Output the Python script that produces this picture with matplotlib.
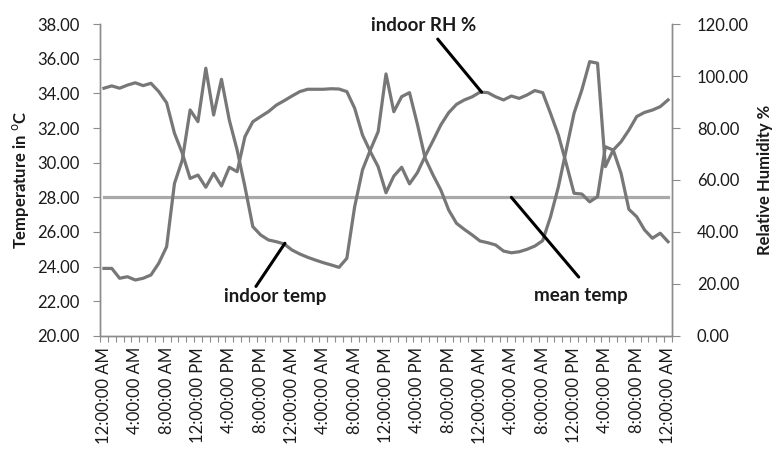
import matplotlib.pyplot as plt
import numpy as np

plt.rcParams["font.family"] = ["Lato", "DejaVu Sans"]

# hourly readings over three days (0 = 12:00:00 AM of day 1)
hours = list(range(73))
indoor_temp = [
    23.90, 23.90, 23.33, 23.42, 23.23, 23.33, 23.52, 24.20, 25.15, 28.80,
    30.15, 33.04, 32.37, 35.45, 32.75, 34.81, 32.46, 30.73, 28.60, 26.31,
    25.83, 25.54, 25.44, 25.31, 24.96, 24.73, 24.54, 24.38, 24.23, 24.10,
    23.96, 24.48, 27.46, 29.58, 30.73, 31.79, 35.12, 32.94, 33.81, 34.04,
    32.23, 30.25, 29.29, 28.42, 27.27, 26.50, 26.15, 25.83, 25.48, 25.38,
    25.25, 24.90, 24.80, 24.86, 25.00, 25.19, 25.50, 26.88, 28.60, 30.73,
    32.85, 34.20, 35.83, 35.74, 29.77, 30.73, 29.39, 27.31, 26.88, 26.12,
    25.64, 25.93, 25.44,
]
indoor_rh = [
    95.3, 96.2, 95.3, 96.5, 97.4, 96.3, 97.2, 94.0, 89.7, 78.0,
    70.3, 60.6, 61.9, 57.2, 62.6, 57.7, 64.9, 63.2, 76.7, 82.4,
    84.4, 86.3, 88.8, 90.5, 92.3, 94.0, 94.9, 94.9, 94.9, 95.1,
    95.0, 94.0, 87.6, 77.3, 70.9, 65.1, 55.1, 61.5, 64.9, 58.5,
    62.8, 69.2, 75.1, 81.2, 85.9, 89.1, 90.8, 92.0, 93.8, 93.6,
    92.0, 90.8, 92.3, 91.4, 92.7, 94.4, 93.6, 85.6, 77.3, 66.4,
    54.9, 54.6, 51.6, 53.6, 72.8, 71.5, 74.7, 79.2, 84.4, 86.0,
    86.9, 88.2, 90.8,
]
mean_temp_value = 28.00
mean_temp = [mean_temp_value] * len(hours)

label_hours = list(range(0, 73, 4))
tick_labels = ["12:00:00 AM", "4:00:00 AM", "8:00:00 AM", "12:00:00 PM",
               "4:00:00 PM", "8:00:00 PM"] * 3 + ["12:00:00 AM"]

line_col = "#777777"
mean_col = "#a9a9a9"
spine_col = "#8c8c8c"
text_col = "#1a1a1a"

fig = plt.figure(figsize=(7.73, 4.53), dpi=100)
ax = fig.add_axes([0.1294, 0.2583, 0.7399, 0.6887])
ax2 = ax.twinx()

ax.plot(hours, indoor_temp, color=line_col, lw=2.3, zorder=3)
ax.plot(hours, mean_temp, color=mean_col, lw=2.3, zorder=2)
ax2.plot(hours, indoor_rh, color=line_col, lw=2.3, zorder=3)

ax.set_xlim(-0.5, 72.5)
ax.set_ylim(20, 38)
ax.set_yticks(np.arange(20, 38.1, 2))
ax.set_yticklabels([f"{v:.2f}" for v in np.arange(20, 38.1, 2)])
ax2.set_ylim(0, 120)
ax2.set_yticks(np.arange(0, 121, 20))
ax2.set_yticklabels([f"{v:.2f}" for v in np.arange(0, 121, 20)])

ax.set_xticks(label_hours)
ax.set_xticklabels(tick_labels, rotation=90)
ax.set_xticks(np.arange(-0.5, 73, 1), minor=True)
ax.tick_params(axis="x", which="major", length=0, pad=8, labelsize=12,
               labelcolor=text_col)
ax.tick_params(axis="x", which="minor", length=4, color=spine_col, width=0.8)
ax.tick_params(axis="y", length=5, color=spine_col, width=0.8, pad=10,
               labelsize=12, labelcolor=text_col)
ax2.tick_params(axis="y", length=6, color=spine_col, width=0.8, pad=12,
                labelsize=12, labelcolor=text_col)

for a in (ax, ax2):
    a.spines["top"].set_visible(False)
    for s in ("left", "right", "bottom"):
        a.spines[s].set_color(spine_col)
        a.spines[s].set_linewidth(1.0)

fig.text(21 / 773, 1 - 180 / 453, r"Temperature in $^{\mathrm{o}}$C", fontsize=12,
         fontweight="bold", color=text_col, rotation=90, ha="center", va="center")
fig.text(765 / 773, 1 - 180 / 453, "Relative Humidity %", fontsize=12,
         fontweight="bold", color=text_col, rotation=90, ha="center", va="center")

# callouts
seg = dict(arrowstyle="-", color="black", lw=2.2, shrinkA=0, shrinkB=0)
lab = dict(fontsize=13.5, fontweight="bold", color=text_col, ha="center",
           va="center")

ax2.annotate("", xy=(48.2, 93.8), xytext=(42.6, 114.2), arrowprops=seg)
ax2.text(40.8, 119.3, "indoor RH %", **lab)

ax.annotate("", xy=(23.1, 25.35), xytext=(19.4, 22.86), arrowprops=seg)
ax.text(21.8, 22.25, "indoor temp", **lab)

ax.annotate("", xy=(52.0, 28.0), xytext=(60.6, 23.4), arrowprops=seg)
ax.text(60.9, 22.35, "mean temp", **lab)

fig.savefig("out.png", dpi=100)
